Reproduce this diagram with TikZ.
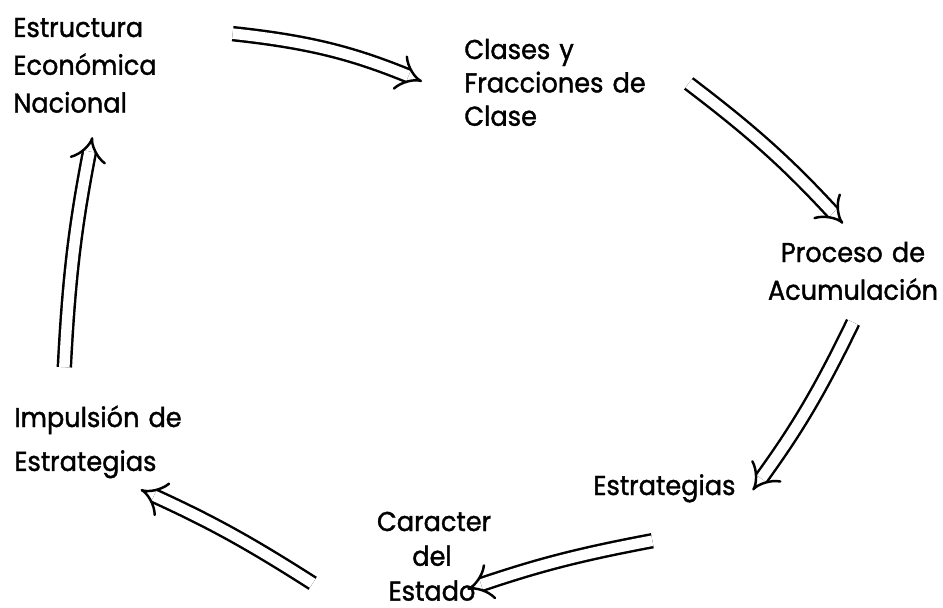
\documentclass[tikz,border=0pt]{standalone}
\usepackage{fontspec}
\setmainfont{Poppins}[FakeBold=1.3, FakeStretch=0.94]
\usepackage{tikz}
\usetikzlibrary{arrows.meta,positioning}

\begin{document}
\begin{tikzpicture}[x=0.02cm, y=-0.02cm]
    \tikzstyle{etiqueta} = [inner sep=0pt, anchor=base west, align=left, font=\fontsize{15.5pt}{21.5pt}\selectfont]
    \tikzstyle{flecha} = [double, double distance=6pt, line width=1.4pt, -{Implies[scale=1.3]}]

    \useasboundingbox (0,0) rectangle (943,608);

    % Economic structure
    \node [etiqueta, text width=2.8cm] (estructura) at (13,37) {Estructura\\Económica\\Nacional};

    % Classes
    \node [etiqueta, text width=4cm, font=\fontsize{15.5pt}{19pt}\selectfont] (clases) at (464,59) {Clases y\\Fracciones de\\Clase};

    % Accumulation
    \node [etiqueta, anchor=base, align=center, text width=3.6cm] (proceso) at (853,262) {Proceso de\\Acumulación};

    % Strategies
    \node [etiqueta, text width=2.8cm] (estrategias) at (593,495) {Estrategias};

    % State
    \node [etiqueta, anchor=base, align=center, text width=2.2cm, font=\fontsize{15.5pt}{19.8pt}\selectfont] (caracter) at (432,531) {Caracter\\del\\Estado};

    % Impulse
    \node [etiqueta, text width=3.6cm, font=\fontsize{15.5pt}{25pt}\selectfont] (impulsion) at (14,427) {Impulsión de\\Estrategias};

    % Arrows
    \draw [flecha] ([shift={(79,16)}]estructura.north east) to[bend left=8] ([shift={(-42,-1)}]clases.west);
    \draw [flecha] ([shift={(24,1)}]clases.east) to[bend left=5] ([shift={(-10,-18)}]proceso.north);
    \draw [flecha] ([shift={(0,22)}]proceso.south) to[bend left=5] ([shift={(19,2)}]estrategias.east);
    \draw [flecha] ([shift={(-11,38)}]estrategias.south) to[bend right=4] ([shift={(-20,-12)}]caracter.south east);
    \draw [flecha] ([shift={(-64,27)}]caracter.west) to[bend right=4] ([shift={(-54,11)}]impulsion.south east);
    \draw [flecha] ([shift={(-40,-38)}]impulsion.north) to[bend left=4] ([shift={(9,24)}]estructura.south);
\end{tikzpicture}
\end{document}
